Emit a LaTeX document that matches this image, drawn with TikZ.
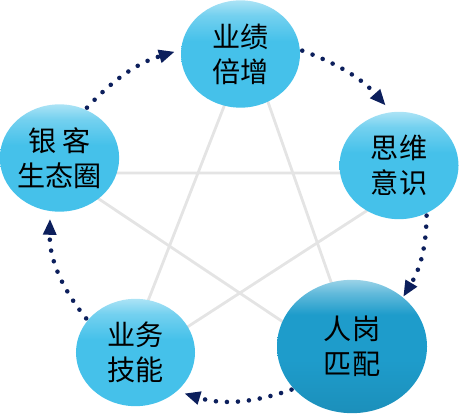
\documentclass[tikz,border=0pt]{standalone}
\usepackage{fontspec}
\setmainfont{Noto Sans CJK SC}
\usetikzlibrary{arrows.meta,shapes.geometric}
\definecolor{dotnavy}{HTML}{0C1F5C}
\definecolor{skyblue}{HTML}{45C1EA}
\definecolor{deepblue}{HTML}{1E9CCB}
\definecolor{linegray}{HTML}{E4E4E4}
\pgfdeclareverticalshading{glossysky}{100bp}{color(0bp)=(skyblue); color(25bp)=(skyblue); color(56bp)=(skyblue); color(68bp)=(skyblue!75!white); color(75bp)=(skyblue!45!white); color(100bp)=(skyblue!45!white)}
\pgfdeclareverticalshading{glossydeep}{100bp}{color(0bp)=(deepblue!92!black); color(25bp)=(deepblue!92!black); color(45bp)=(deepblue); color(62bp)=(deepblue); color(70bp)=(deepblue!70!white); color(75bp)=(deepblue!45!white); color(100bp)=(deepblue!45!white)}
\tikzset{
  bubble/.style={
    ellipse,
    shading=glossysky,
    minimum width=3.57cm,
    minimum height=3.22cm,
    inner sep=0pt,
    align=center,
    font=\fontsize{24}{30}\selectfont
  },
  bigbubble/.style={bubble, shading=glossydeep, minimum width=4.5cm, minimum height=4cm},
  pentaline/.style={draw=linegray, line width=2.4pt},
  flow/.style={draw=dotnavy, line width=3.9pt, line cap=round, dash pattern=on 0pt off 9.4pt,
    -{Triangle[length=4.6mm, width=4.2mm, line width=0pt]}, shorten <=2pt}
}

\begin{document}
\begin{tikzpicture}[x=0.03cm, y=0.03cm]
  \useasboundingbox (0,0) rectangle (461,415);
  % pentagram behind the bubbles
  \coordinate (sT)  at (248,370);
  \coordinate (sR)  at (425,242);
  \coordinate (sBR) at (364,39);
  \coordinate (sBL) at (121,45);
  \coordinate (sL)  at (60,242);
  \draw[pentaline] (sT) -- (sBL) -- (sR) -- (sL) -- (sBR) -- cycle;
  \node[bubble]    (T)  at (240.5,361) {业绩\\倍增};
  \node[bubble]    (R)  at (399,249.5) {思维\\意识};
  \node[bigbubble] (BR) at (352,68.5)  {人岗\\匹配};
  \node[bubble]    (BL) at (135.5,62.5) {业务\\技能};
  \node[bubble]    (L)  at (59.5,257)  {银 客\\生态圈};
  \draw[flow, shorten >=6pt] (L.62)   to[bend left=15] (T.176);
  \draw[flow, shorten >=8pt] (T.4)    to[bend left=14] (R.98);
  \draw[flow, shorten >=1pt] (R.-60)  to[bend left=15] (BR.44);
  \draw[flow, shorten >=7pt] (BR.216) to[bend left=18] (BL.-43);
  \draw[flow, shorten >=7pt] (BL.146) to[bend left=20] (L.260);
\end{tikzpicture}
\end{document}
